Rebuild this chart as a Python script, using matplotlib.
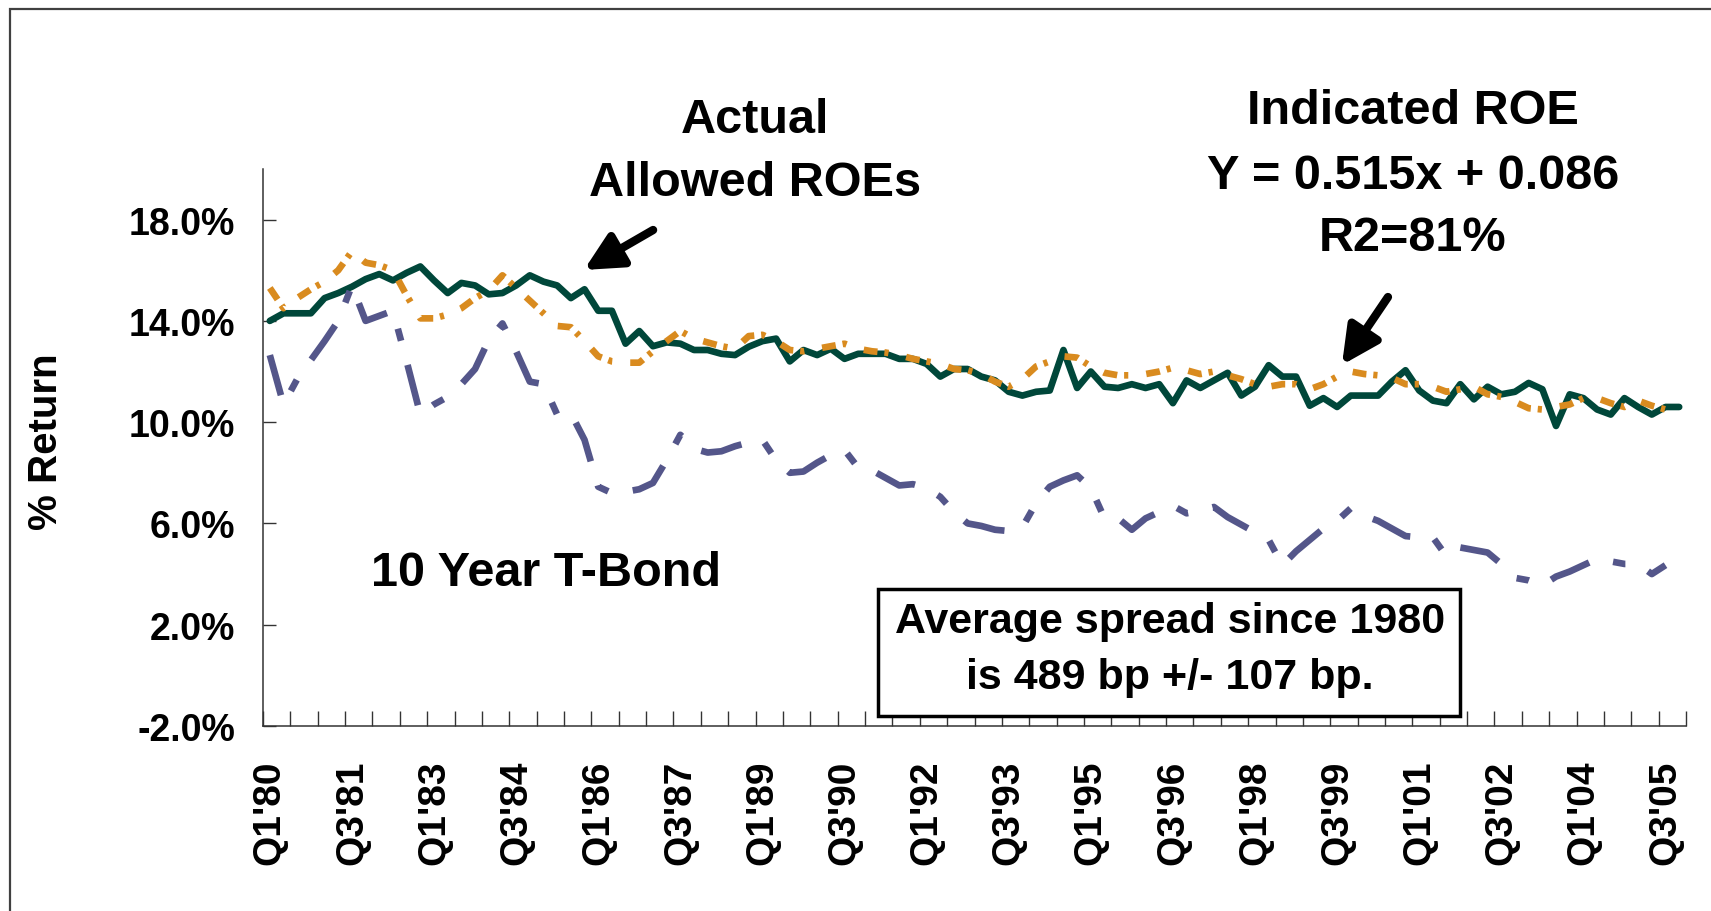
import numpy as np
import matplotlib
matplotlib.use('Agg')
import matplotlib.pyplot as plt
from matplotlib.patches import Rectangle

plt.rcParams['font.family'] = ['Liberation Sans', 'DejaVu Sans']
plt.rcParams['font.weight'] = 'bold'
plt.rcParams['lines.scale_dashes'] = False

# quarters Q1'80 .. Q4'05
quarters = [f"Q{q}'{y % 100:02d}" for y in range(1980, 2006) for q in range(1, 5)]

# Indicated ROE (%), solid green
indicated_roe = [
    14.0, 14.3, 14.3, 14.3, 14.9, 15.1, 15.35, 15.65, 15.85, 15.6,
    15.9, 16.15, 15.6, 15.1, 15.5, 15.4, 15.05, 15.1, 15.4, 15.8,
    15.55, 15.4, 14.9, 15.25, 14.4, 14.4, 13.1, 13.6, 13.0, 13.15,
    13.1, 12.85, 12.85, 12.7, 12.65, 12.98, 13.2, 13.3, 12.4, 12.85,
    12.65, 12.9, 12.5, 12.7, 12.7, 12.7, 12.5, 12.5, 12.3, 11.8,
    12.1, 12.1, 11.8, 11.65, 11.2, 11.05, 11.2, 11.25, 12.85, 11.35,
    12.0, 11.4, 11.35, 11.5, 11.35, 11.5, 10.75, 11.65, 11.35, 11.65,
    11.95, 11.05, 11.4, 12.25, 11.8, 11.8, 10.65, 10.95, 10.6, 11.05,
    11.05, 11.05, 11.6, 12.05, 11.25, 10.85, 10.75, 11.5, 10.9, 11.4,
    11.1, 11.2, 11.55, 11.3, 9.85, 11.1, 10.95, 10.5, 10.3, 10.95,
    10.6, 10.3, 10.6, 10.6,
]

# Actual allowed ROEs (%), orange dash-dot
allowed_roe = [
    15.3, 14.5, 14.9, 15.25, 15.55, 16.0, 16.75, 16.3, 16.2, 16.0,
    15.0, 14.1, 14.1, 14.25, 14.5, 14.9, 15.2, 15.8, 15.3, 14.8,
    14.3, 13.8, 13.75, 13.2, 12.6, 12.4, 12.35, 12.35, 12.8, 13.2,
    13.6, 13.3, 13.15, 13.0, 12.9, 13.4, 13.45, 13.2, 12.85, 12.8,
    12.9, 13.0, 13.1, 12.9, 12.8, 12.75, 12.65, 12.5, 12.4, 12.3,
    12.1, 12.05, 11.9, 11.6, 11.4, 11.7, 12.2, 12.4, 12.6, 12.55,
    12.2, 11.95, 11.85, 11.85, 11.9, 12.0, 12.15, 12.05, 11.9, 12.0,
    11.85, 11.7, 11.5, 11.4, 11.5, 11.5, 11.3, 11.5, 11.8, 12.0,
    11.9, 11.85, 11.75, 11.5, 11.5, 11.4, 11.2, 11.3, 11.4, 11.1,
    11.0, 10.8, 10.55, 10.5, 10.6, 10.7, 10.95, 10.95, 10.75, 10.6,
    10.85, 10.65, 10.5, np.nan,
]

# 10 year T-Bond yield (%), purple dash-dot
t_bond = [
    12.65, 10.7, 11.7, 12.45, 13.2, 14.0, 15.4, 14.0, 14.2, 14.4,
    12.4, 10.3, 10.7, 11.0, 11.5, 12.1, 13.25, 13.9, 12.8, 11.6,
    11.5, 10.3, 10.35, 9.3, 7.45, 7.2, 7.25, 7.35, 7.6, 8.5,
    9.5, 8.95, 8.8, 8.85, 9.05, 9.2, 9.3, 8.5, 8.0, 8.05,
    8.4, 8.7, 8.9, 8.2, 8.1, 7.8, 7.5, 7.55, 7.4, 7.05,
    6.45, 6.0, 5.9, 5.75, 5.7, 5.85, 6.8, 7.45, 7.7, 7.9,
    7.4, 6.2, 6.2, 5.75, 6.2, 6.45, 6.7, 6.4, 6.5, 6.65,
    6.25, 5.95, 5.65, 5.35, 4.35, 4.9, 5.35, 5.8, 6.1, 6.6,
    6.3, 6.1, 5.8, 5.5, 5.45, 5.45, 4.7, 5.05, 4.95, 4.85,
    4.4, 3.85, 3.75, 3.55, 3.9, 4.1, 4.35, 4.6, 4.5, 4.4,
    4.4, 4.0, 4.35, np.nan,
]

y_ticks = [-2, 2, 6, 10, 14, 18]

fig = plt.figure(figsize=(17.11, 9.12), dpi=100)
ax = fig.add_axes([0.1537, 0.2029, 0.8317, 0.6107])

x = np.arange(len(quarters))
ax.plot(x, indicated_roe, color='#00473A', lw=4.8, solid_joinstyle='round',
        solid_capstyle='round', zorder=2)
ax.plot(x, allowed_roe, color='#D98B1F', lw=4.8, dashes=(10, 5, 3, 13),
        dash_capstyle='butt', zorder=3)
ax.plot(x, t_bond, color='#54568A', lw=4.8, dashes=(30, 18, 9, 18),
        dash_capstyle='butt', zorder=4)

ax.set_xlim(-0.5, len(quarters) - 0.5)
ax.set_ylim(-2, 20)
for side in ['top', 'right']:
    ax.spines[side].set_visible(False)
for side in ['left', 'bottom']:
    ax.spines[side].set_color('#333333')
    ax.spines[side].set_linewidth(1.1)

ax.set_yticks(y_ticks)
ax.set_yticklabels([f"{v:.1f}%" for v in y_ticks])
ax.tick_params(axis='y', direction='in', length=9, width=1, pad=20,
               labelsize=27, color='#333333')

ax.set_xticks(x[::6])
ax.set_xticklabels(quarters[::6], rotation=90)
ax.set_xticks(np.arange(-0.5, len(quarters), 2), minor=True)
ax.tick_params(axis='x', which='major', length=0, pad=24, labelsize=28)
ax.tick_params(axis='x', which='minor', direction='in', length=11, width=1,
               color='#333333')

fig.text(0.0269, 0.5154, '% Return', rotation=90, ha='center', va='center',
         fontsize=29)

# annotations
fig.text(0.4413, 0.8684, 'Actual', ha='center', va='center', fontsize=35)
fig.text(0.4413, 0.7993, 'Allowed ROEs', ha='center', va='center', fontsize=35)
fig.text(0.8258, 0.8772, 'Indicated ROE', ha='center', va='center', fontsize=35)
fig.text(0.8258, 0.8070, 'Y = 0.515x + 0.086', ha='center', va='center', fontsize=35)
fig.text(0.8258, 0.7390, 'R2=81%', ha='center', va='center', fontsize=35)
fig.text(0.3191, 0.3717, '10 Year T-Bond', ha='center', va='center', fontsize=35)

arrow_style = dict(arrowstyle='-|>,head_length=0.9,head_width=0.45', lw=6,
                   color='black', shrinkA=0, shrinkB=0, mutation_scale=25,
                   capstyle='round')
ax.annotate('', xy=(0.3413, 0.7029), xytext=(0.3817, 0.7467),
            xycoords='figure fraction', textcoords='figure fraction',
            arrowprops=arrow_style)
ax.annotate('', xy=(0.7843, 0.5987), xytext=(0.8112, 0.6732),
            xycoords='figure fraction', textcoords='figure fraction',
            arrowprops=arrow_style)

# spread box
fig.patches.append(Rectangle((0.5131, 0.2138), 0.3402, 0.1393, transform=fig.transFigure,
                             facecolor='white', edgecolor='black', lw=2.5, zorder=5))
fig.text(0.6838, 0.3180, 'Average spread since 1980', ha='center', va='center',
         fontsize=31, zorder=6)
fig.text(0.6838, 0.2566, 'is 489 bp +/- 107 bp.', ha='center', va='center',
         fontsize=31, zorder=6)

# outer border
fig.patches.append(Rectangle((10 / 1711, -0.1), 1.2, 1.1 - 10 / 912,
                             transform=fig.transFigure, fill=False,
                             edgecolor='#404040', lw=1.6))

fig.savefig('out.png', dpi=100)
